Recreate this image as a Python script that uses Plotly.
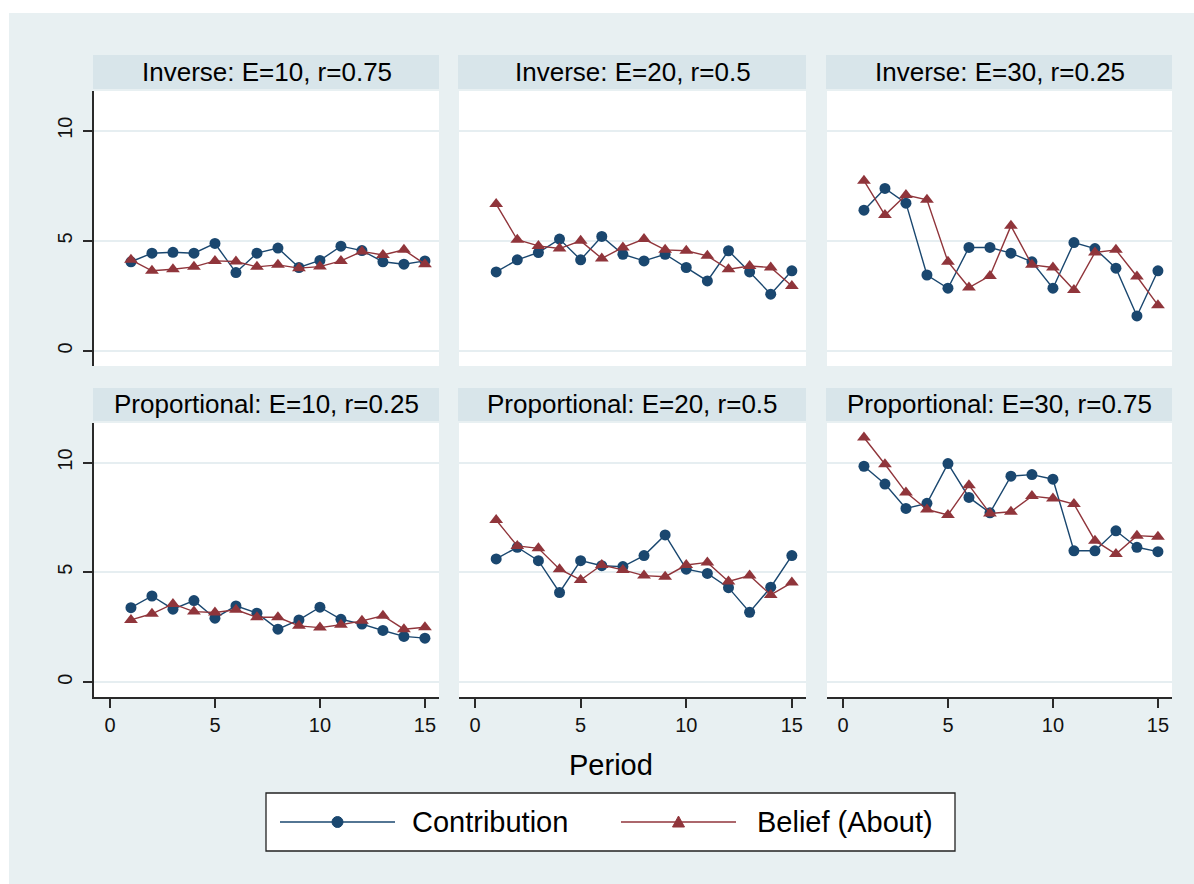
import plotly.graph_objects as go

# ---- data -------------------------------------------------------------
periods = [1, 2, 3, 4, 5, 6, 7, 8, 9, 10, 11, 12, 13, 14, 15]

panel_titles = [
    "Inverse: E=10, r=0.75",
    "Inverse: E=20, r=0.5",
    "Inverse: E=30, r=0.25",
    "Proportional: E=10, r=0.25",
    "Proportional: E=20, r=0.5",
    "Proportional: E=30, r=0.75",
]

inv10_contribution = [4.05, 4.44, 4.48, 4.44, 4.88, 3.56, 4.44, 4.67, 3.79, 4.11, 4.76, 4.56, 4.05, 3.94, 4.09]
inv10_belief = [4.14, 3.64, 3.71, 3.82, 4.09, 4.06, 3.82, 3.91, 3.76, 3.83, 4.09, 4.52, 4.36, 4.59, 3.94]

inv20_contribution = [3.59, 4.14, 4.47, 5.08, 4.14, 5.20, 4.39, 4.09, 4.39, 3.79, 3.18, 4.55, 3.59, 2.58, 3.64]
inv20_belief = [6.67, 5.05, 4.77, 4.65, 5.00, 4.20, 4.70, 5.08, 4.59, 4.55, 4.32, 3.71, 3.86, 3.79, 2.95]

inv30_contribution = [6.39, 7.38, 6.71, 3.45, 2.85, 4.70, 4.70, 4.44, 4.05, 2.85, 4.92, 4.65, 3.76, 1.59, 3.64]
inv30_belief = [7.73, 6.17, 7.08, 6.86, 4.05, 2.88, 3.41, 5.68, 3.91, 3.79, 2.77, 4.47, 4.59, 3.38, 2.08]

prop10_contribution = [3.39, 3.92, 3.32, 3.71, 2.91, 3.47, 3.14, 2.41, 2.83, 3.41, 2.86, 2.64, 2.35, 2.08, 2.00]
prop10_belief = [2.83, 3.11, 3.56, 3.21, 3.17, 3.29, 2.95, 2.95, 2.56, 2.48, 2.61, 2.79, 3.02, 2.41, 2.50]

prop20_contribution = [5.61, 6.14, 5.53, 4.08, 5.53, 5.30, 5.26, 5.76, 6.70, 5.14, 4.95, 4.30, 3.18, 4.32, 5.76]
prop20_belief = [7.38, 6.20, 6.09, 5.14, 4.65, 5.33, 5.11, 4.85, 4.80, 5.33, 5.45, 4.58, 4.85, 3.97, 4.53]

prop30_contribution = [9.83, 9.02, 7.91, 8.14, 9.95, 8.41, 7.71, 9.38, 9.45, 9.24, 5.98, 5.98, 6.89, 6.14, 5.94]
prop30_belief = [11.14, 9.92, 8.64, 7.86, 7.61, 8.97, 7.68, 7.76, 8.47, 8.36, 8.11, 6.44, 5.83, 6.67, 6.62]

x_ticks = [0, 5, 10, 15]
y_ticks = [0, 5, 10]
series_names = ["Contribution", "Belief (About)"]

# ---- styling ----------------------------------------------------------
W, H = 1194, 884
BLUE = "#1A476F"
RED = "#90353B"
BG = "#E8F0F2"
STRIP = "#D8E5EA"
GRID = "#E6EEF1"
AXIS = "#2A2A2A"
FONT = "Liberation Sans, Arial, sans-serif"

col_px = [(94, 439), (459, 806), (827, 1172)]
row_px = [(91, 366), (423, 697)]
strip_px = [(55, 89), (388, 421)]


def fx(px):
    return px / W


def fy(py):
    return 1 - py / H


panels = [
    (inv10_contribution, inv10_belief),
    (inv20_contribution, inv20_belief),
    (inv30_contribution, inv30_belief),
    (prop10_contribution, prop10_belief),
    (prop20_contribution, prop20_belief),
    (prop30_contribution, prop30_belief),
]

fig = go.Figure()
layout_axes = {}
shapes = []
annotations = []

for i, (contrib, belief) in enumerate(panels):
    r, c = divmod(i, 3)
    k = i + 1
    xs = "x" if k == 1 else f"x{k}"
    ys = "y" if k == 1 else f"y{k}"
    fig.add_trace(go.Scatter(
        x=periods, y=contrib, xaxis=xs, yaxis=ys, mode="lines+markers",
        name=series_names[0], showlegend=False,
        line=dict(color=BLUE, width=1.4),
        marker=dict(symbol="circle", size=11, color=BLUE),
    ))
    fig.add_trace(go.Scatter(
        x=periods, y=belief, xaxis=xs, yaxis=ys, mode="lines+markers",
        name=series_names[1], showlegend=False,
        line=dict(color=RED, width=1.4),
        marker=dict(symbol="triangle-up", size=12, color=RED),
    ))

    x0, x1 = col_px[c]
    y0, y1 = row_px[r]
    xname = "xaxis" if k == 1 else f"xaxis{k}"
    yname = "yaxis" if k == 1 else f"yaxis{k}"
    bottom = r == 1
    left = c == 0
    layout_axes[xname] = dict(
        domain=[fx(x0), fx(x1)], anchor=ys, range=[-0.76, 15.67],
        tickvals=x_ticks, showticklabels=bottom,
        ticks="outside" if bottom else "", ticklen=9, tickwidth=1.5, tickcolor=AXIS,
        showline=bottom, linecolor=AXIS, linewidth=1.5,
        showgrid=False, zeroline=False, ticklabelstandoff=0,
        tickfont=dict(family=FONT, size=20, color="#111"),
    )
    layout_axes[yname] = dict(
        domain=[fy(y1), fy(y0)], anchor=xs, range=[-0.68, 11.8],
        tickvals=y_ticks, showticklabels=left, tickangle=-90,
        ticks="outside" if left else "", ticklen=9, tickwidth=1.5, tickcolor=AXIS,
        showline=left, linecolor=AXIS, linewidth=1.5,
        showgrid=True, gridcolor=GRID, gridwidth=1.5, zeroline=False,
        ticklabelstandoff=3,
        tickfont=dict(family=FONT, size=20, color="#111"),
    )

    # panel header strip
    s0, s1 = strip_px[r]
    shapes.append(dict(type="rect", xref="paper", yref="paper",
                       x0=fx(x0 - 1), x1=fx(x1), y0=fy(s1), y1=fy(s0),
                       fillcolor=STRIP, line=dict(width=0), layer="below"))
    annotations.append(dict(text=panel_titles[i], xref="paper", yref="paper",
                            x=fx((x0 + x1) / 2), y=fy((s0 + s1) / 2),
                            xanchor="center", yanchor="middle", showarrow=False,
                            font=dict(family=FONT, size=26, color="#000")))

# white page margin around the graph region
shapes.append(dict(type="rect", xref="paper", yref="paper", x0=0, x1=1, y0=fy(13), y1=1,
                   fillcolor="white", line=dict(width=0), layer="below"))
shapes.append(dict(type="rect", xref="paper", yref="paper", x0=0, x1=fx(9), y0=0, y1=1,
                   fillcolor="white", line=dict(width=0), layer="below"))

# x-axis title
annotations.append(dict(text="Period", xref="paper", yref="paper",
                        x=fx(611), y=fy(765), xanchor="center", yanchor="middle",
                        showarrow=False, font=dict(family=FONT, size=29, color="#000")))

# legend box
lg_top, lg_bot = 793, 851
lg_mid = (lg_top + lg_bot) / 2
shapes.append(dict(type="rect", xref="paper", yref="paper",
                   x0=fx(266), x1=fx(955), y0=fy(lg_bot), y1=fy(lg_top),
                   fillcolor="white", line=dict(color="#222", width=1.3)))
legend_items = [
    (series_names[0], BLUE, "circle", 280, 395, 410),
    (series_names[1], RED, "triangle", 621, 736, 755),
]
for label, color, sym, lx0, lx1, tx in legend_items:
    shapes.append(dict(type="line", xref="paper", yref="paper",
                       x0=fx(lx0), x1=fx(lx1), y0=fy(lg_mid), y1=fy(lg_mid),
                       line=dict(color=color, width=1.6)))
    cx = (lx0 + lx1) / 2
    if sym == "circle":
        shapes.append(dict(type="circle", xref="paper", yref="paper",
                           x0=fx(cx - 5.5), x1=fx(cx + 5.5),
                           y0=fy(lg_mid + 5.5), y1=fy(lg_mid - 5.5),
                           fillcolor=color, line=dict(color=color, width=1)))
    else:
        path = (f"M {fx(cx - 6)},{fy(lg_mid + 5)} L {fx(cx + 6)},{fy(lg_mid + 5)} "
                f"L {fx(cx)},{fy(lg_mid - 6)} Z")
        shapes.append(dict(type="path", xref="paper", yref="paper", path=path,
                           fillcolor=color, line=dict(color=color, width=1)))
    annotations.append(dict(text=label, xref="paper", yref="paper",
                            x=fx(tx), y=fy(lg_mid), xanchor="left", yanchor="middle",
                            showarrow=False, font=dict(family=FONT, size=29, color="#000")))

fig.update_layout(
    width=W, height=H,
    margin=dict(l=0, r=0, t=0, b=0),
    paper_bgcolor=BG, plot_bgcolor="white",
    showlegend=False,
    shapes=shapes, annotations=annotations,
    font=dict(family=FONT),
    **layout_axes,
)

fig.write_html("out.html")
